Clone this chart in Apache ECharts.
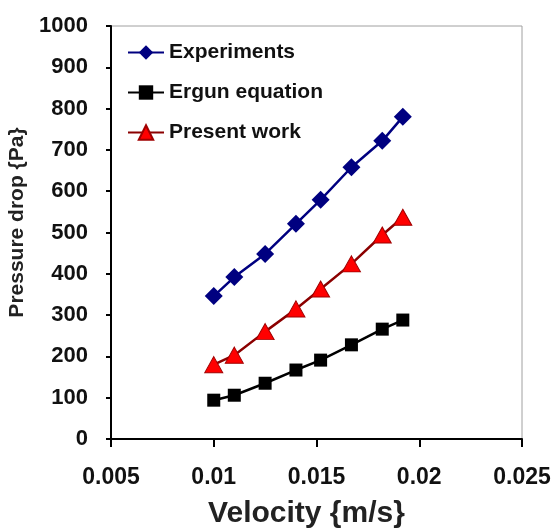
<!DOCTYPE html>
<html>
<head>
<meta charset="utf-8">
<script src="https://cdn.jsdelivr.net/npm/echarts@6/dist/echarts.min.js"></script>
<style>
  html, body { margin: 0; padding: 0; background: #fff; }
  #chart { width: 556px; height: 529px; }
</style>
</head>
<body>
<div id="chart"></div>
<script>
// velocity values (m/s), same for all three series
var velocity = [0.0100, 0.0110, 0.0125, 0.0140, 0.0152, 0.0167, 0.0182, 0.0192]
// pressure drop (Pa)
var experiments = [346, 392, 448, 521, 579, 658, 722, 780]
var ergun = [94, 106, 135, 167, 191, 228, 266, 288]
var presentWork = [180, 203, 260, 315, 363, 424, 494, 537]

var seriesNames = ['Experiments', 'Ergun equation', 'Present work']

function pairs (ys) {
  return ys.map(function (y, i) { return [velocity[i], y] })
}

var font = 'Liberation Sans, Arial, sans-serif'

var myChart = echarts.init(document.getElementById('chart'))
myChart.setOption({
  animation: false,
  backgroundColor: '#fff',
  grid: {
    left: 111,
    right: 34,
    top: 26,
    bottom: 90,
    outerBoundsMode: 'none',
    show: true,
    borderColor: '#a0a0a0',
    borderWidth: 1
  },
  legend: {
    orient: 'vertical',
    left: 122,
    top: 37,
    itemWidth: 36,
    itemHeight: 18,
    itemGap: 19,
    data: seriesNames,
    textStyle: {
      fontFamily: font,
      fontWeight: 'bold',
      fontSize: 21,
      color: '#111'
    }
  },
  xAxis: {
    type: 'value',
    min: 0.005,
    max: 0.025,
    interval: 0.005,
    name: 'Velocity {m/s}',
    nameLocation: 'middle',
    nameGap: 60,
    nameTextStyle: {
      fontFamily: font,
      fontWeight: 'bold',
      fontSize: 30,
      color: '#222',
      padding: [0, 20, 0, 0]
    },
    axisLine: { onZero: false, lineStyle: { color: '#000', width: 2 } },
    axisTick: { length: 8, lineStyle: { color: '#000', width: 2 } },
    axisLabel: {
      margin: 27,
      fontFamily: font,
      fontWeight: 'bold',
      fontSize: 23,
      color: '#111'
    },
    splitLine: { show: false }
  },
  yAxis: {
    type: 'value',
    min: 0,
    max: 1000,
    interval: 100,
    name: 'Pressure drop {Pa}',
    nameLocation: 'middle',
    nameGap: 82,
    nameTextStyle: {
      fontFamily: font,
      fontWeight: 'bold',
      fontSize: 21,
      color: '#222',
      padding: [0, 0, 0, 20]
    },
    axisLine: { lineStyle: { color: '#000', width: 2 } },
    axisTick: { length: 5, lineStyle: { color: '#000', width: 2 } },
    axisLabel: {
      margin: 23,
      fontFamily: font,
      fontWeight: 'bold',
      fontSize: 22,
      color: '#111',
      formatter: function (v) { return String(v) }
    },
    splitLine: { show: false }
  },
  series: [{
    name: seriesNames[0],
    type: 'line',
    data: pairs(experiments),
    symbol: 'diamond',
    symbolSize: 18,
    lineStyle: { color: '#000080', width: 2.5 },
    itemStyle: { color: '#000080' }
  }, {
    name: seriesNames[1],
    type: 'line',
    data: pairs(ergun),
    symbol: 'rect',
    symbolSize: 13,
    lineStyle: { color: '#000', width: 2.5 },
    itemStyle: { color: '#000' }
  }, {
    name: seriesNames[2],
    type: 'line',
    data: pairs(presentWork),
    symbol: 'triangle',
    symbolSize: [18, 16],
    lineStyle: { color: '#8b0000', width: 2.5 },
    itemStyle: { color: '#ff0000', borderColor: '#a00000', borderWidth: 1 }
  }]
})
</script>
</body>
</html>
